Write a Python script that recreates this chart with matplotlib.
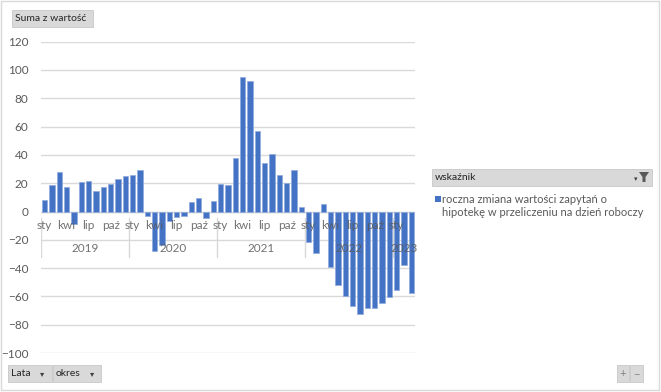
import matplotlib
matplotlib.use("Agg")
import matplotlib.pyplot as plt
from matplotlib.patches import Rectangle, Polygon

plt.rcParams['font.family'] = ['Lato', 'DejaVu Sans']

# monthly values, Jan 2019 - Mar 2023
years = ["2019", "2020", "2021", "2022", "2023"]
months_per_year = [12, 12, 12, 12, 3]
month_names = ["sty", "lut", "mar", "kwi", "maj", "cze", "lip", "sie", "wrz", "paź", "lis", "gru"]
values = [
    8, 18.8, 28, 17.6, -9, 20.7, 21.4, 14.8, 17, 19.3, 23, 25,
    25.6, 29, -3, -27.8, -24, -7, -3.8, -3, 6.6, 9.6, -4.7, 7.5,
    19.3, 18.4, 37.9, 94.8, 92, 56.7, 34.1, 40.5, 26.1, 20.2, 29.2, 3.5,
    -21.4, -29.4, 5.6, -39, -51.8, -59.8, -66.6, -72.5, -68.5, -68.5, -64.9, -60.7,
    -55.8, -37.9, -57.4,
]
legend_label = "roczna zmiana wartości zapytań o\nhipotekę w przeliczeniu na dzień roboczy"
yticks = list(range(-100, 121, 20))

W, H = 661, 392
fig = plt.figure(figsize=(W / 100, H / 100), dpi=100)
fig.patch.set_facecolor("white")


def box(x0, y0, x1, y1, **kw):
    # pixel coords with origin at top-left
    r = Rectangle((x0 / W, 1 - y1 / H), (x1 - x0) / W, (y1 - y0) / H,
                  transform=fig.transFigure, **kw)
    fig.patches.append(r)


def ftext(x, y, s, **kw):
    fig.text(x / W, 1 - y / H, s, **kw)


# chart border
box(1, 1, W - 2, H - 2, facecolor="none", edgecolor="#D9D9D9", lw=1)

ax = fig.add_axes([41 / W, 1 - 353 / H, (415 - 41) / W, (353 - 41.7) / H])
n = len(values)
x = list(range(n))
ax.bar(x, values, width=0.75, color="#4472C4", edgecolor="#8FAADC", linewidth=0.5, zorder=3)
ax.set_xlim(-0.5, n - 0.5)
ax.set_ylim(-100, 120)
ax.set_yticks(yticks)
ax.yaxis.grid(True, color="#D9D9D9", lw=1)
ax.set_axisbelow(True)
ax.tick_params(axis="y", length=0, pad=9, labelsize=8.5, labelcolor="#595959")
ax.set_xticks([])
for s in ax.spines.values():
    s.set_visible(False)
ax.axhline(0, color="#D9D9D9", lw=1, zorder=2)

# two-level category axis (labels drawn over the bars, as in Excel)
start = 0
for yr, cnt in zip(years, months_per_year):
    for m in range(0, cnt, 3):
        ax.text(start + m, -10, month_names[m], ha="center", va="center",
                fontsize=8.5, color="#595959", alpha=0.85, zorder=4)
    ax.text(start + (cnt - 1) / 2, -26, yr, ha="center", va="center",
            fontsize=8.5, color="#595959", alpha=0.85, zorder=4)
    ax.plot([start - 0.5, start - 0.5], [-4.5, -32.5], color="#D9D9D9", lw=1, zorder=2)
    start += cnt

# field buttons
box(12, 10, 93, 27, facecolor="#D9D9D9", edgecolor="#C8C8C8", lw=0.6)
ftext(15, 18.5, "Suma z wartość", fontsize=7.5, color="#262626", va="center")

box(8, 365, 52, 382, facecolor="#D9D9D9", edgecolor="#C8C8C8", lw=0.6)
ftext(11, 373.5, "Lata", fontsize=7.5, color="#262626", va="center")
ftext(42, 373.5, "▾", fontsize=6, color="#404040", va="center", ha="center",
      family="DejaVu Sans")
box(53, 365, 101, 382, facecolor="#D9D9D9", edgecolor="#C8C8C8", lw=0.6)
ftext(56, 373.5, "okres", fontsize=7.5, color="#262626", va="center")
ftext(92, 373.5, "▾", fontsize=6, color="#404040", va="center", ha="center",
      family="DejaVu Sans")

box(617, 365, 629, 382, facecolor="#D9D9D9", edgecolor="#C8C8C8", lw=0.6)
ftext(623, 373.5, "+", fontsize=8, color="#808080", va="center", ha="center")
box(630, 365, 643, 382, facecolor="#D9D9D9", edgecolor="#C8C8C8", lw=0.6)
ftext(636.5, 373.5, "−", fontsize=8, color="#808080", va="center", ha="center")

# legend header with filter icon
box(432, 169, 652, 186, facecolor="#D9D9D9", edgecolor="#C8C8C8", lw=0.6)
ftext(435, 177.5, "wskaźnik", fontsize=7.5, color="#262626", va="center")
funnel = Polygon([((639) / W, 1 - 172 / H), ((649) / W, 1 - 172 / H),
                  ((645.5) / W, 1 - 177 / H), ((645.5) / W, 1 - 182 / H),
                  ((642.5) / W, 1 - 182 / H), ((642.5) / W, 1 - 177 / H)],
                 closed=True, transform=fig.transFigure, facecolor="#595959", edgecolor="none")
fig.patches.append(funnel)
ftext(635.5, 179, "▾", fontsize=5, color="#404040", va="center", ha="center",
      family="DejaVu Sans")

box(435, 196, 441, 202, facecolor="#4472C4", edgecolor="none")
ftext(442, 206, legend_label, fontsize=8, color="#595959", va="center",
      linespacing=1.3)

fig.savefig("out.png", dpi=100)
